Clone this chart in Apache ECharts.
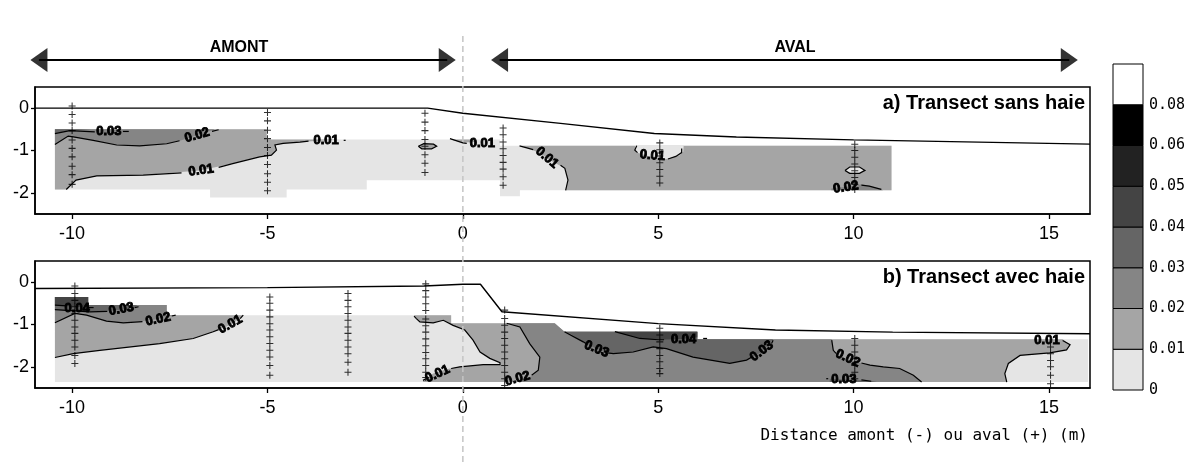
<!DOCTYPE html>
<html><head><meta charset="utf-8">
<script src="https://cdn.jsdelivr.net/npm/echarts@6/dist/echarts.min.js"></script>
<style>html,body{margin:0;padding:0;background:#fff}#c{width:1193px;height:466px}</style>
</head><body><div id="c"></div>
<script>
// ---------- data ----------
const xTicks = [-10, -5, 0, 5, 10, 15];
const yTicks = [-2, -1, 0];
const levels = [0, 0.01, 0.02, 0.03, 0.04, 0.05, 0.06, 0.08];
const levelLabels = ['0', '0.01', '0.02', '0.03', '0.04', '0.05', '0.06', '0.08'];
const levelColors = ['#e5e5e5', '#a5a5a5', '#858585', '#656565', '#444444', '#222222', '#000000', '#ffffff'];
const legendIndex = [0, 1, 2, 3, 4, 5, 6, 7];

const surfaceA = [[-10.95, 0], [-0.9, 0], [0, -0.12], [2.5, -0.36], [4.9, -0.6], [7, -0.68], [10, -0.75], [16.05, -0.85]];
const surfaceB = [[-10.95, -0.15], [-5, -0.13], [-1, -0.09], [0, -0.05], [0.45, -0.05], [1, -0.7], [5, -0.98], [8, -1.13], [11, -1.18], [16.05, -1.22]];

const zonesA = [
  {level: 0, pts: [[-10.44,-0.5],[-5.02,-0.5],[-5.02,-0.74],[0.95,-0.74],[0.95,-0.89],[10.97,-0.89],[10.97,-1.94],[1.46,-1.94],[1.46,-2.08],[0.95,-2.08],[0.95,-1.7],[-2.46,-1.7],[-2.46,-1.92],[-4.51,-1.92],[-4.51,-2.11],[-6.47,-2.11],[-6.47,-1.92],[-10.44,-1.92]]},
  {level: 0.01, pts: [[-10.44,-0.5],[-5.02,-0.5],[-5.02,-0.74],[-3.15,-0.74],[-3.87,-0.78],[-4.17,-0.8],[-4.6,-0.83],[-4.81,-0.87],[-4.77,-0.99],[-4.9,-1.11],[-5.2,-1.15],[-5.89,-1.31],[-6.73,-1.47],[-8.18,-1.58],[-9.37,-1.6],[-9.9,-1.7],[-10.15,-1.92],[-10.44,-1.92]]},
  {level: 0.01, pts: [[1.5,-0.89],[10.97,-0.89],[10.97,-1.94],[2.63,-1.94],[2.69,-1.7],[2.61,-1.42],[2.23,-1.23],[1.97,-1.06]]},
  {level: 0.01, pts: [[-1.14,-0.9],[-1.0,-0.84],[-0.75,-0.85],[-0.67,-0.9],[-0.8,-0.96],[-1.05,-0.96]]},
  {level: 0.01, pts: [[-0.33,-0.74],[0.3,-0.74],[0.3,-0.8],[0,-0.81]]},
  {level: 0.02, pts: [[-10.44,-0.5],[-6.35,-0.5],[-6.4,-0.52],[-6.8,-0.64],[-7.2,-0.76],[-7.58,-0.84],[-8.27,-0.89],[-8.86,-0.87],[-9.46,-0.76],[-9.97,-0.68],[-10.1,-0.66],[-10.44,-0.86]]},
  {level: 0.03, pts: [[-10.44,-0.5],[-9.5,-0.5],[-10.06,-0.53],[-10.44,-0.6]]},
  {level: 0, pts: [[4.4,-0.89],[5.65,-0.89],[5.64,-1.03],[5.55,-1.11],[5.21,-1.2],[4.8,-1.15],[4.45,-1.05]]},
  {level: 0, pts: [[9.78,-1.47],[9.9,-1.39],[10.15,-1.39],[10.29,-1.47],[10.15,-1.54],[9.9,-1.54]]},
  {level: 0.02, pts: [[9.43,-1.94],[9.43,-1.9],[9.78,-1.86],[10.2,-1.8],[10.4,-1.83],[10.71,-1.92],[10.75,-1.94]]}
];

const zonesB = [
  {level: 0, pts: [[-10.44,-0.35],[-9.59,-0.35],[-9.59,-0.54],[-7.58,-0.54],[-7.58,-0.78],[-0.3,-0.78],[-0.3,-0.97],[2.35,-0.97],[2.6,-1.17],[6.0,-1.17],[6.0,-1.35],[16.0,-1.35],[16.0,-2.36],[-10.44,-2.36]]},
  {level: 0.01, pts: [[-10.44,-0.35],[-9.59,-0.35],[-9.59,-0.54],[-7.58,-0.54],[-7.58,-0.78],[-5.62,-0.78],[-5.7,-0.85],[-5.96,-1.02],[-6.39,-1.17],[-6.9,-1.33],[-7.76,-1.45],[-9.29,-1.61],[-9.97,-1.69],[-10.44,-1.78]]},
  {level: 0.01, pts: [[-1.25,-0.78],[-0.3,-0.78],[-0.3,-0.97],[2.35,-0.97],[2.6,-1.17],[6.0,-1.17],[6.0,-1.35],[15.35,-1.35],[15.54,-1.48],[15.45,-1.6],[15.02,-1.67],[14.26,-1.73],[13.96,-1.92],[13.87,-2.16],[13.92,-2.36],[-1.02,-2.36],[-1.02,-2.32],[-0.76,-2.16],[-0.42,-2.06],[-0.08,-2.0],[0.52,-1.95],[0.95,-1.95],[0.95,-1.9],[0.69,-1.8],[0.44,-1.65],[0.26,-1.37],[0.05,-1.13],[-0.25,-1.02],[-0.5,-0.9],[-0.76,-0.96],[-1.1,-0.94],[-1.19,-0.86]]},
  {level: 0.02, pts: [[-10.44,-0.35],[-9.59,-0.35],[-9.59,-0.54],[-7.58,-0.54],[-7.58,-0.78],[-7.41,-0.78],[-7.8,-0.87],[-8.18,-0.92],[-8.69,-0.96],[-9.12,-0.92],[-9.63,-0.78],[-9.93,-0.74],[-10.44,-0.96]]},
  {level: 0.02, pts: [[1.12,-0.97],[2.35,-0.97],[2.6,-1.17],[6.0,-1.17],[6.0,-1.35],[9.44,-1.35],[9.48,-1.61],[9.65,-1.77],[10.0,-1.87],[10.42,-1.96],[10.76,-2.0],[11.18,-2.04],[11.53,-2.2],[11.74,-2.36],[1.3,-2.36],[1.76,-2.22],[1.93,-2.08],[1.97,-1.77],[1.71,-1.45],[1.46,-1.06]]},
  {level: 0.03, pts: [[-10.44,-0.35],[-9.59,-0.35],[-9.59,-0.54],[-8.35,-0.54],[-8.35,-0.58],[-8.74,-0.65],[-9.54,-0.7],[-9.93,-0.68],[-10.44,-0.65]]},
  {level: 0.03, pts: [[2.6,-1.17],[6.0,-1.17],[6.0,-1.35],[7.94,-1.35],[7.65,-1.65],[7.26,-1.84],[6.83,-1.92],[5.89,-1.77],[5.21,-1.57],[4.87,-1.53],[4.36,-1.65],[3.85,-1.69],[3.42,-1.57],[3.08,-1.41],[2.75,-1.22]]},
  {level: 0.03, pts: [[9.39,-2.36],[9.39,-2.28],[10.4,-2.32],[10.6,-2.36]]},
  {level: 0.04, pts: [[-10.44,-0.35],[-9.59,-0.35],[-9.59,-0.58],[-9.93,-0.58],[-10.44,-0.54]]},
  {level: 0.04, pts: [[3.89,-1.17],[6.0,-1.17],[6.0,-1.3],[5.6,-1.34],[5.0,-1.36],[4.53,-1.33]]}
];

const contoursA = [
  [[-10.44,-0.6],[-10.06,-0.53],[-9.42,-0.56]],
  [[-8.7,-0.55],[-8.55,-0.55]],
  [[-10.44,-0.86],[-10.1,-0.66],[-9.97,-0.68],[-9.46,-0.76],[-8.86,-0.87],[-8.27,-0.89],[-7.58,-0.84],[-7.25,-0.77]],
  [[-6.42,-0.55],[-6.25,-0.51]],
  [[-10.15,-1.92],[-9.9,-1.7],[-9.37,-1.6],[-8.18,-1.58],[-7.2,-1.53]],
  [[-6.25,-1.4],[-5.89,-1.31],[-5.2,-1.15],[-4.9,-1.11],[-4.77,-0.99],[-4.81,-0.87],[-4.6,-0.83],[-4.17,-0.8],[-3.95,-0.78]],
  [[-3.05,-0.76],[-3.0,-0.76]],
  [[-1.14,-0.9],[-1.0,-0.84],[-0.75,-0.85],[-0.67,-0.9],[-0.8,-0.96],[-1.05,-0.96],[-1.14,-0.9]],
  [[-0.33,-0.72],[0,-0.82],[0.1,-0.83]],
  [[1.45,-0.89],[1.8,-0.98]],
  [[2.5,-1.35],[2.61,-1.42],[2.69,-1.7],[2.63,-1.94]],
  [[4.45,-0.89],[4.4,-0.99],[4.47,-1.05]],
  [[5.25,-1.2],[5.45,-1.14],[5.6,-1.05],[5.6,-0.95]],
  [[9.78,-1.47],[9.9,-1.39],[10.15,-1.39],[10.29,-1.47],[10.15,-1.54],[9.9,-1.54],[9.78,-1.47]],
  [[10.2,-1.82],[10.4,-1.84],[10.71,-1.92]]
];
const contoursB = [
  [[-10.44,-0.54],[-10.15,-0.56]],
  [[-9.6,-0.6],[-9.45,-0.6]],
  [[-10.44,-0.65],[-9.93,-0.68],[-9.54,-0.7],[-9.1,-0.69]],
  [[-8.4,-0.6],[-8.3,-0.58]],
  [[-10.44,-0.96],[-9.93,-0.74],[-9.63,-0.78],[-9.12,-0.92],[-8.69,-0.96],[-8.2,-0.93]],
  [[-7.45,-0.8],[-7.35,-0.78]],
  [[-10.44,-1.78],[-9.97,-1.69],[-9.29,-1.61],[-7.76,-1.45],[-6.9,-1.33],[-6.39,-1.17],[-6.25,-1.12]],
  [[-5.7,-0.86],[-5.62,-0.78]],
  [[-1.25,-0.8],[-1.19,-0.86],[-1.1,-0.94],[-0.76,-0.96],[-0.5,-0.9],[-0.25,-1.02],[0.05,-1.13],[0.26,-1.37],[0.44,-1.65],[0.69,-1.8],[0.95,-1.9],[0.95,-1.95],[0.52,-1.95],[-0.08,-2.0],[-0.3,-2.04]],
  [[-0.95,-2.28],[-1.02,-2.32]],
  [[1.12,-0.97],[1.46,-1.06],[1.71,-1.45],[1.97,-1.77],[1.93,-2.08],[1.76,-2.2]],
  [[2.6,-1.17],[3.08,-1.41],[3.15,-1.45]],
  [[3.7,-1.67],[3.85,-1.69],[4.36,-1.65],[4.87,-1.53],[5.21,-1.57],[5.89,-1.77],[6.83,-1.92],[7.26,-1.84],[7.4,-1.77]],
  [[7.9,-1.45],[7.94,-1.37]],
  [[3.89,-1.17],[4.53,-1.33],[5.0,-1.36],[5.15,-1.36]],
  [[6.15,-1.33],[6.25,-1.33]],
  [[9.44,-1.37],[9.48,-1.61],[9.55,-1.68]],
  [[10.2,-1.91],[10.42,-1.96],[10.76,-2.0],[11.18,-2.04],[11.53,-2.2],[11.74,-2.36]],
  [[9.3,-2.28],[9.35,-2.28]],
  [[10.2,-2.31],[10.45,-2.34]],
  [[15.35,-1.38],[15.54,-1.48],[15.45,-1.6],[15.02,-1.67],[14.26,-1.73],[13.96,-1.92],[13.87,-2.16],[13.92,-2.36]]
];

const labelsA = [[-9.06,-0.56,'0.03',0],[-6.8,-0.64,'0.02',16],[-6.7,-1.47,'0.01',8],[-3.5,-0.77,'0.01',0],[0.5,-0.83,'0.01',0],[2.15,-1.17,'0.01',-40],[4.85,-1.12,'0.01',-5],[9.8,-1.87,'0.02',8]];
const labelsB = [[-9.87,-0.62,'0.04',0],[-8.74,-0.64,'0.03',10],[-7.8,-0.88,'0.02',12],[-5.95,-1.0,'0.01',29],[-0.65,-2.17,'0.01',25],[1.4,-2.28,'0.02',15],[3.42,-1.58,'0.03',-22],[5.65,-1.36,'0.04',0],[7.65,-1.63,'0.03',37],[9.85,-1.8,'0.02',-25],[9.75,-2.3,'0.03',0],[14.95,-1.37,'0.01',0]];

const profilesA = [
  [-10, [0.05,-0.15,-0.35,-0.53,-0.75,-0.95,-1.15,-1.37,-1.57,-1.8]],
  [-5, [-0.1,-0.3,-0.52,-0.72,-0.93,-1.12,-1.33,-1.55,-1.75,-1.95]],
  [-0.97, [-0.12,-0.33,-0.53,-0.74,-0.9,-1.1,-1.3,-1.52]],
  [1.03, [-0.47,-0.63,-0.8,-0.96,-1.12,-1.28,-1.44,-1.62,-1.82]],
  [5.04, [-0.82,-0.98,-1.13,-1.29,-1.45,-1.61,-1.77]],
  [10.03, [-0.85,-1.0,-1.16,-1.32,-1.48,-1.64,-1.8,-1.92]]
];
const profilesB = [
  [-9.93, [-0.09,-0.27,-0.43,-0.58,-0.74,-0.9,-1.06,-1.21,-1.37,-1.53,-1.73,-1.92]],
  [-4.94, [-0.35,-0.5,-0.66,-0.82,-0.98,-1.13,-1.29,-1.45,-1.61,-1.77,-1.97,-2.2]],
  [-2.94, [-0.27,-0.43,-0.58,-0.74,-0.9,-1.06,-1.21,-1.37,-1.53,-1.69,-1.89,-2.13]],
  [-0.95, [-0.04,-0.2,-0.35,-0.51,-0.67,-0.87,-1.03,-1.18,-1.34,-1.5,-1.66,-1.81,-1.97,-2.13,-2.25]],
  [1.07, [-0.66,-0.86,-1.02,-1.18,-1.33,-1.49,-1.65,-1.81,-1.97,-2.13,-2.28,-2.44]],
  [5.04, [-1.09,-1.25,-1.41,-1.57,-1.73,-1.88,-2.04,-2.16]],
  [10.03, [-1.33,-1.49,-1.65,-1.81,-1.97,-2.13,-2.28]],
  [15.04, [-1.53,-1.69,-1.85,-2.0,-2.2,-2.4]]
];

const divider = [[0, 0], [0, 1]];
const arrowAmont = [[-10.85, 0.5], [-0.4, 0.5]];
const arrowAval = [[0.94, 0.5], [15.52, 0.5]];

// ---------- helpers ----------
const X_MIN = -10.95, X_MAX = 16.05;
function colorOf(level) { return levelColors[levels.indexOf(level)]; }
function xAxisPanel(gi) {
  return {gridIndex: gi, type: 'value', min: X_MIN, max: X_MAX,
    axisLine: {show: true, onZero: false, lineStyle: {color: '#000', width: 1.5}},
    axisTick: {show: true, customValues: xTicks, length: 5, lineStyle: {color: '#000', width: 1.3}},
    axisLabel: {customValues: xTicks, color: '#000', fontSize: 18, fontFamily: 'Liberation Sans, Arial', margin: 11},
    splitLine: {show: false}};
}
function yAxisPanel(gi) {
  return {gridIndex: gi, type: 'value', min: -2.5, max: 0.5,
    axisLine: {show: true, onZero: false, lineStyle: {color: '#000', width: 1.5}},
    axisTick: {show: true, customValues: yTicks, length: 4, lineStyle: {color: '#000', width: 1.3}},
    axisLabel: {customValues: yTicks, color: '#000', fontSize: 18, fontFamily: 'Liberation Sans, Arial', margin: 6},
    splitLine: {show: false}};
}
function hiddenX(gi) { return {gridIndex: gi, type: 'value', min: X_MIN, max: X_MAX, show: false}; }
function hiddenY(gi) { return {gridIndex: gi, type: 'value', min: 0, max: 1, show: false}; }

function zoneSeries(zones, gi) {
  return {type: 'custom', xAxisIndex: gi, yAxisIndex: gi, z: 1, clip: true, silent: true,
    data: zones.map((z, i) => [i, 0, 0]), encode: {x: 1, y: 2},
    renderItem: (p, api) => {
      const z = zones[api.value(0)];
      return {type: 'polygon', shape: {points: z.pts.map(q => api.coord(q))}, style: {fill: colorOf(z.level)}};
    }};
}
function contourSeries(lines, gi) {
  return {type: 'custom', xAxisIndex: gi, yAxisIndex: gi, z: 3, clip: true, silent: true,
    data: lines.map((l, i) => [i, 0, 0]), encode: {x: 1, y: 2},
    renderItem: (p, api) => {
      const l = lines[api.value(0)];
      return {type: 'polyline', shape: {points: l.map(q => api.coord(q))}, style: {stroke: '#000', lineWidth: 1.2, fill: null}};
    }};
}
function labelSeries(labels, gi) {
  return {type: 'custom', xAxisIndex: gi, yAxisIndex: gi, z: 6, silent: true,
    data: labels.map((l, i) => [i, 0, 0]), encode: {x: 1, y: 2},
    renderItem: (p, api) => {
      const l = labels[api.value(0)];
      const c = api.coord([l[0], l[1]]);
      return {type: 'text', x: c[0], y: c[1], rotation: l[3] * Math.PI / 180,
        style: {text: l[2], fill: '#000', stroke: '#000', lineWidth: 0.9, font: 'bold 13px "Liberation Sans", Arial', align: 'center', verticalAlign: 'middle'}};
    }};
}
function crossSeries(profiles, gi) {
  const data = [];
  profiles.forEach(pr => pr[1].forEach(y => data.push([pr[0], y])));
  return {type: 'scatter', xAxisIndex: gi, yAxisIndex: gi, z: 5, silent: true, clip: false,
    symbol: 'path://M3.4,0h1.2v3.4h3.4v1.2h-3.4v3.4h-1.2v-3.4h-3.4v-1.2h3.4z', symbolSize: 7,
    itemStyle: {color: '#000'}, data: data};
}
function surfaceSeries(data, gi) {
  return {type: 'line', xAxisIndex: gi, yAxisIndex: gi, z: 4, silent: true, symbol: 'none',
    lineStyle: {color: '#000', width: 1.4}, data: data};
}

const titleFont = {fontFamily: 'Liberation Sans, Arial', fontSize: 20, fontWeight: 'bold', color: '#000'};

const option = {
  animation: false,
  backgroundColor: '#fff',
  title: [
    {text: 'a) Transect sans haie', right: 108, top: 93, padding: 0, textStyle: titleFont},
    {text: 'b) Transect avec haie', right: 108, top: 267, padding: 0, textStyle: titleFont},
    {text: 'Distance amont (-) ou aval (+) (m)', right: 105, top: 428, padding: 0,
      textStyle: {fontFamily: 'DejaVu Sans Mono', fontSize: 16, fontWeight: 'normal', color: '#000'}},
    {text: 'AMONT', left: 239, textAlign: 'center', top: 40, padding: 0,
      textStyle: {fontFamily: 'Liberation Sans, Arial', fontSize: 16, fontWeight: 'bold', color: '#000'}},
    {text: 'AVAL', left: 795, textAlign: 'center', top: 40, padding: 0,
      textStyle: {fontFamily: 'Liberation Sans, Arial', fontSize: 16, fontWeight: 'bold', color: '#000'}}
  ],
  grid: [
    {left: 35, top: 87, width: 1055, height: 127, show: true, borderColor: '#000', borderWidth: 1.5, backgroundColor: 'transparent'},
    {left: 35, top: 261, width: 1055, height: 127, show: true, borderColor: '#000', borderWidth: 1.5, backgroundColor: 'transparent'},
    {left: 35, top: 35, width: 1055, height: 427},
    {left: 35, top: 48, width: 1055, height: 24},
    {left: 1113, top: 64, width: 30, height: 326}
  ],
  xAxis: [xAxisPanel(0), xAxisPanel(1), hiddenX(2), hiddenX(3),
    {gridIndex: 4, type: 'value', min: 0, max: 1, show: false}],
  yAxis: [yAxisPanel(0), yAxisPanel(1), hiddenY(2), hiddenY(3),
    {gridIndex: 4, type: 'value', min: 0, max: 8, position: 'right',
      axisLine: {show: false}, axisTick: {show: false}, splitLine: {show: false},
      axisLabel: {customValues: legendIndex, formatter: v => levelLabels[v], color: '#000',
        fontFamily: 'DejaVu Sans Mono', fontSize: 15, margin: 6}}],
  series: [
    zoneSeries(zonesA, 0), contourSeries(contoursA, 0), surfaceSeries(surfaceA, 0), crossSeries(profilesA, 0), labelSeries(labelsA, 0),
    zoneSeries(zonesB, 1), contourSeries(contoursB, 1), surfaceSeries(surfaceB, 1), crossSeries(profilesB, 1), labelSeries(labelsB, 1),
    {type: 'line', xAxisIndex: 2, yAxisIndex: 2, z: 8, silent: true, symbol: 'none', clip: false,
      lineStyle: {color: '#c4c4c4', width: 1.5, type: [6, 4]}, data: divider},
    {type: 'line', xAxisIndex: 3, yAxisIndex: 3, z: 8, silent: true, symbol: 'none', clip: false,
      lineStyle: {color: '#000', width: 2}, data: arrowAmont},
    {type: 'line', xAxisIndex: 3, yAxisIndex: 3, z: 8, silent: true, symbol: 'none', clip: false,
      lineStyle: {color: '#000', width: 2}, data: arrowAval},
    {type: 'scatter', xAxisIndex: 3, yAxisIndex: 3, z: 9, silent: true, clip: false,
      symbol: 'triangle', symbolSize: [24, 17], itemStyle: {color: '#000'},
      data: [
        {value: arrowAmont[0], symbolRotate: 90}, {value: arrowAmont[1], symbolRotate: -90},
        {value: arrowAval[0], symbolRotate: 90}, {value: arrowAval[1], symbolRotate: -90}
      ]},
    {type: 'custom', xAxisIndex: 4, yAxisIndex: 4, z: 2, silent: true,
      data: legendIndex.map(i => [0, i]),
      renderItem: (p, api) => {
        const i = api.value(1);
        const a = api.coord([0, i + 1]);
        const b = api.coord([1, i]);
        return {type: 'rect', shape: {x: a[0], y: a[1], width: b[0] - a[0], height: b[1] - a[1]},
          style: {fill: levelColors[i], stroke: '#000', lineWidth: 1}};
      }}
  ]
};

const chart = echarts.init(document.getElementById('c'));
chart.setOption(option);
</script>
</body></html>
